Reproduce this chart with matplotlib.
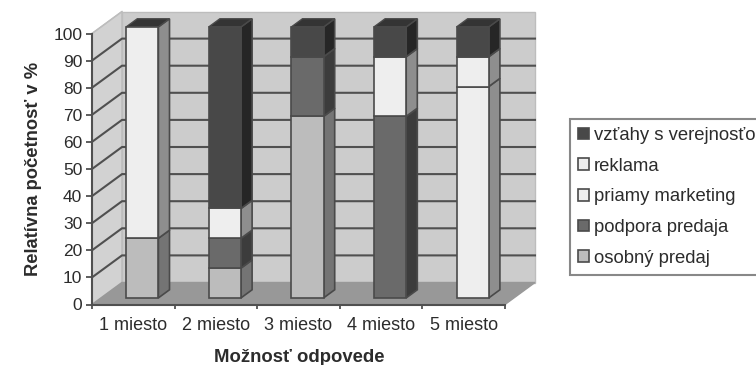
import matplotlib
matplotlib.use("Agg")
import matplotlib.pyplot as plt
from matplotlib.patches import Patch, Polygon

plt.rcParams["font.family"] = ["Liberation Sans", "DejaVu Sans"]

categories = ["1 miesto", "2 miesto", "3 miesto", "4 miesto", "5 miesto"]
series_names = ["osobný predaj", "podpora predaja", "priamy marketing", "reklama", "vzťahy s verejnosťou"]
osobny_predaj = [22, 11, 67, 0, 0]
podpora_predaja = [0, 11, 22, 67, 0]
priamy_marketing = [78, 0, 0, 0, 78]
reklama = [0, 11, 0, 22, 11]
vztahy = [0, 67, 11, 11, 11]
series_values = [osobny_predaj, podpora_predaja, priamy_marketing, reklama, vztahy]
y_ticks = list(range(0, 101, 10))

front_colors = ["#bcbcbc", "#6a6a6a", "#eeeeee", "#eeeeee", "#484848"]
side_colors = ["#747474", "#3c3c3c", "#8e8e8e", "#8e8e8e", "#262626"]
top_color = "#343434"
edge = "#4a4a4a"
text_color = "#2c2c2c"

W, H = 756, 365
AX_BOTTOM, AX_TOP = 304.5, 33.5
fig = plt.figure(figsize=(W / 100, H / 100), dpi=100, facecolor="white")
ax = fig.add_axes([92 / W, (H - AX_BOTTOM) / H, 413 / W, (AX_BOTTOM - AX_TOP) / H])
ax.set_xlim(0, 5)
ax.set_ylim(0, 100)
ax.patch.set_visible(False)

# Oblique projection: a unit of depth shifts a point right and upward.
DX = 30 / (413 / 5)
DY = 22 / ((AX_BOTTOM - AX_TOP) / 100)


def project(x, y, depth):
    return (x + depth * DX, y + depth * DY)


def face(points, **style):
    ax.add_patch(Polygon([project(*p) for p in points], closed=True, clip_on=False, **style))


# Walls and floor
face([(0, 0, 0), (0, 100, 0), (0, 100, 1), (0, 0, 1)], facecolor="#d2d2d2", edgecolor="#bdbdbd", lw=1, zorder=1)
face([(0, 0, 1), (0, 100, 1), (5, 100, 1), (5, 0, 1)], facecolor="#cccccc", edgecolor="#bdbdbd", lw=1, zorder=1)
face([(0, 0, 0), (5, 0, 0), (5, 0, 1), (0, 0, 1)], facecolor="#989898", edgecolor="#989898", lw=1, zorder=1)

# Gridlines run along the side wall and across the back wall
for v in y_ticks[1:-1]:
    xs, ys = zip(project(0, v, 0), project(0, v, 1), project(5, v, 1))
    ax.plot(xs, ys, color="#505050", lw=1.5, clip_on=False, zorder=2)
xs, ys = zip(project(0, 100, 0), project(0, 100, 1))
ax.plot(xs, ys, color="#bdbdbd", lw=1, clip_on=False, zorder=2)

# Stacked columns
BAR_W = 0.39
D0, D1 = 0.3, 0.67
for i in range(len(categories)):
    x0 = i + 0.5 - BAR_W / 2
    x1 = x0 + BAR_W
    base = 0
    for vals, fc, sc in zip(series_values, front_colors, side_colors):
        v = vals[i]
        if v == 0:
            continue
        fx, fy = project(x0, base, D0)
        ax.bar(fx, v, width=BAR_W, bottom=fy, align="edge", facecolor=fc, edgecolor=edge,
               lw=1.2, clip_on=False, zorder=5)
        face([(x1, base, D0), (x1, base + v, D0), (x1, base + v, D1), (x1, base, D1)],
             facecolor=sc, edgecolor=edge, lw=1.2, zorder=4)
        base += v
    face([(x0, base, D0), (x1, base, D0), (x1, base, D1), (x0, base, D1)],
         facecolor=top_color, edgecolor=edge, lw=1.0, zorder=4)

# Axes furniture
for s in ("top", "right"):
    ax.spines[s].set_visible(False)
for s in ("left", "bottom"):
    ax.spines[s].set_color("#505050")
    ax.spines[s].set_linewidth(1.5)
    ax.spines[s].set_zorder(6)
ax.set_yticks(y_ticks)
ax.tick_params(axis="y", length=4, width=1.3, color="#505050", labelsize=12.5, pad=3, labelcolor=text_color)
ax.set_xticks(range(6))
ax.set_xticklabels([])
ax.set_xticks([i + 0.5 for i in range(5)], categories, minor=True)
ax.tick_params(axis="x", which="major", length=3, width=1.3, color="#505050")
ax.tick_params(axis="x", which="minor", length=0, labelsize=13, pad=9, labelcolor=text_color)

fig.text(34 / W, 1 - 169 / H, "Relatívna početnosť v %", rotation=90, ha="center", va="center",
         fontsize=13.2, fontweight="bold", color=text_color)
fig.text(299 / W, 1 - 357 / H, "Možnosť odpovede", ha="center", va="center",
         fontsize=13.3, fontweight="bold", color=text_color)

handles = [Patch(facecolor=c, edgecolor=edge, lw=1.2) for c in front_colors[::-1]]
leg = fig.legend(handles, series_names[::-1], loc="upper left", bbox_to_anchor=(570 / W, 1 - 119 / H),
                 bbox_transform=fig.transFigure, borderaxespad=0, frameon=True, fancybox=False,
                 edgecolor="#6a6a6a", facecolor="white", fontsize=13.3, handlelength=0.6,
                 handleheight=0.6, handletextpad=0.27, labelspacing=0.74, borderpad=0.43,
                 labelcolor=text_color)
leg.get_frame().set_linewidth(1.5)

fig.savefig("out.png", dpi=100)
